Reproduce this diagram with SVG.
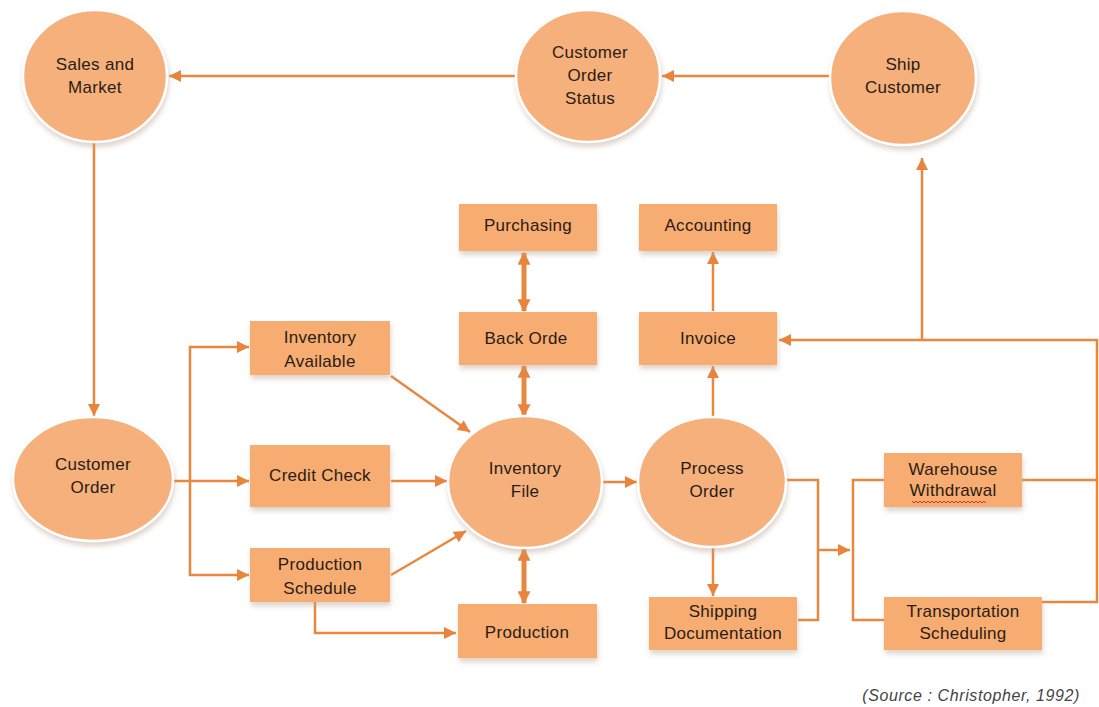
<svg xmlns="http://www.w3.org/2000/svg" width="1099" height="707" viewBox="0 0 1099 707">
<defs>
<filter id="sh" x="-20%" y="-20%" width="140%" height="150%">
<feDropShadow dx="1" dy="4" stdDeviation="2.5" flood-color="#b8a090" flood-opacity="0.45"/>
</filter>
<marker id="ah" markerUnits="userSpaceOnUse" markerWidth="12" markerHeight="12" refX="10" refY="5" viewBox="0 0 10 10" orient="auto-start-reverse">
<path d="M0,0 L10,5 L0,10 z" fill="#E8843C"/>
</marker>
<marker id="ah2" markerUnits="userSpaceOnUse" markerWidth="13" markerHeight="13" refX="9" refY="5" viewBox="0 0 10 10" orient="auto-start-reverse">
<path d="M0,0 L10,5 L0,10 z" fill="#E8843C"/>
</marker>
</defs>
<style>
.circ{fill:#F5B07C;stroke:#ffffff;stroke-width:2.5;filter:url(#sh)}
.box{fill:#F7AD72;filter:url(#sh)}
.lbl{font-family:"Liberation Sans",Arial,sans-serif;font-size:17px;letter-spacing:0.3px;fill:#2a1c14;text-anchor:middle}
.ln{fill:none;stroke:#E8883F;stroke-width:2.5}
.arr{marker-end:url(#ah)}
.dbl{fill:none;stroke:#E8883F;stroke-width:5;marker-start:url(#ah2);marker-end:url(#ah2)}
.src{font-family:"Liberation Sans",Arial,sans-serif;font-size:16px;letter-spacing:0.6px;font-style:italic;fill:#444;text-anchor:end}
.spell{fill:none;stroke:#d03030;stroke-width:1}
</style>
<rect width="1099" height="707" fill="#ffffff"/>

<g id="connectors">
<path class="ln arr" d="M830 76 H662"/>
<path class="ln arr" d="M515 76 H169"/>
<path class="ln arr" d="M94 143 V416"/>
<path class="ln arr" d="M173 481 H249"/>
<path class="ln arr" d="M190 481 V347 H249"/>
<path class="ln arr" d="M190 481 V575 H249"/>
<path class="ln arr" d="M391 376 L470 432"/>
<path class="ln arr" d="M391 481 H447"/>
<path class="ln arr" d="M391 575 L466 531"/>
<path class="ln arr" d="M315 602 V633 H456"/>
<path class="dbl" d="M524 311 V253"/>
<path class="dbl" d="M524 366 V416"/>
<path class="dbl" d="M524 549 V603"/>
<path class="ln arr" d="M602 482 H637"/>
<path class="ln arr" d="M713 417 V366"/>
<path class="ln arr" d="M713 311 V252"/>
<path class="ln arr" d="M713 547 V596"/>
<path class="ln" d="M786 480 H818 V620 H798"/>
<path class="ln arr" d="M818 550 H850"/>
<path class="ln" d="M884 480 H853 V620 H884"/>
<path class="ln" d="M1022 480 H1097"/>
<path class="ln arr" d="M1042 602 H1097 V340 H779"/>
<path class="ln arr" d="M922 340 V158"/>
</g>

<g id="sales-market">
<ellipse class="circ" cx="95" cy="76" rx="72" ry="66"/>
<text class="lbl" x="95" y="70">Sales and</text>
<text class="lbl" x="95" y="93">Market</text>
</g>
<g id="customer-order-status">
<ellipse class="circ" cx="588" cy="76" rx="72" ry="66"/>
<text class="lbl" x="590" y="58">Customer</text>
<text class="lbl" x="590" y="81">Order</text>
<text class="lbl" x="590" y="104">Status</text>
</g>
<g id="ship-customer">
<ellipse class="circ" cx="903" cy="78" rx="73" ry="67"/>
<text class="lbl" x="903" y="70">Ship</text>
<text class="lbl" x="903" y="93">Customer</text>
</g>
<g id="customer-order">
<ellipse class="circ" cx="93" cy="479" rx="80" ry="62"/>
<text class="lbl" x="93" y="470">Customer</text>
<text class="lbl" x="93" y="493">Order</text>
</g>
<g id="inventory-available">
<rect class="box" x="250" y="321" width="140" height="54"/>
<text class="lbl" x="320" y="343">Inventory</text>
<text class="lbl" x="320" y="367">Available</text>
</g>
<g id="credit-check">
<rect class="box" x="250" y="445" width="140" height="62"/>
<text class="lbl" x="320" y="481">Credit Check</text>
</g>
<g id="production-schedule">
<rect class="box" x="250" y="548" width="140" height="54"/>
<text class="lbl" x="320" y="570">Production</text>
<text class="lbl" x="320" y="594">Schedule</text>
</g>
<g id="purchasing">
<rect class="box" x="459" y="204" width="138" height="47"/>
<text class="lbl" x="528" y="231">Purchasing</text>
</g>
<g id="accounting">
<rect class="box" x="639" y="204" width="138" height="47"/>
<text class="lbl" x="708" y="231">Accounting</text>
</g>
<g id="back-order">
<rect class="box" x="459" y="312" width="138" height="53"/>
<text class="lbl" x="526" y="344">Back Orde</text>
</g>
<g id="invoice">
<rect class="box" x="639" y="312" width="138" height="53"/>
<text class="lbl" x="708" y="344">Invoice</text>
</g>
<g id="inventory-file">
<ellipse class="circ" cx="525" cy="482" rx="77" ry="66"/>
<text class="lbl" x="525" y="474">Inventory</text>
<text class="lbl" x="525" y="497">File</text>
</g>
<g id="process-order">
<ellipse class="circ" cx="712" cy="482" rx="74" ry="65"/>
<text class="lbl" x="712" y="474">Process</text>
<text class="lbl" x="712" y="497">Order</text>
</g>
<g id="production">
<rect class="box" x="458" y="604" width="139" height="54"/>
<text class="lbl" x="527" y="638">Production</text>
</g>
<g id="shipping-documentation">
<rect class="box" x="649" y="597" width="148" height="53"/>
<text class="lbl" x="723" y="617">Shipping</text>
<text class="lbl" x="723" y="639">Documentation</text>
</g>
<g id="warehouse-withdrawal">
<rect class="box" x="884" y="453" width="138" height="54"/>
<text class="lbl" x="953" y="475">Warehouse</text>
<text class="lbl" x="953" y="496">Withdrawal</text>
<path class="spell" d="M912 501 l2 2 l2 -2 l2 2 l2 -2 l2 2 l2 -2 l2 2 l2 -2 l2 2 l2 -2 l2 2 l2 -2 l2 2 l2 -2 l2 2 l2 -2 l2 2 l2 -2 l2 2 l2 -2 l2 2 l2 -2 l2 2 l2 -2 l2 2 l2 -2 l2 2 l2 -2 l2 2 l2 -2 l2 2 l2 -2 l2 2 l2 -2 l2 2 l2 -2 l2 2"/>
</g>
<g id="transportation-scheduling">
<rect class="box" x="884" y="597" width="158" height="53"/>
<text class="lbl" x="963" y="617">Transportation</text>
<text class="lbl" x="963" y="639">Scheduling</text>
</g>
<text class="src" x="1080" y="701">(Source : Christopher, 1992)</text>
</svg>
